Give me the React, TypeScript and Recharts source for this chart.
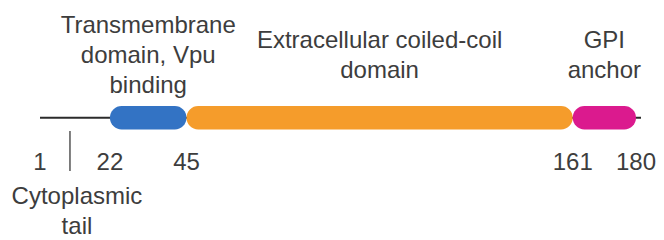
import { BarChart, Bar, XAxis, YAxis, LabelList } from 'recharts'

// BST-2 / tetherin domain map, residues 1-180
const domainNames = ['tm', 'cc', 'gpi']
const domainStarts = [22, 45, 161]
const domainEnds = [45, 161, 180]
const domainColors = ['#3373c4', '#f59c2b', '#db1a8e']
const domainLabels = [
  ['Transmembrane', 'domain, Vpu', 'binding'],
  ['Extracellular coiled-coil', 'domain'],
  ['GPI', 'anchor'],
]
const proteinStart = 1
const proteinEnd = 180
const tickValues = [1, 10, 22, 45, 161, 180]
const tailMarker = 10
const tailLabel = ['Cytoplasmic', 'tail']

const row: Record<string, string | number> = { name: 'protein', lead: domainStarts[0] }
domainNames.forEach((n, i) => {
  row[n] = domainEnds[i] - domainStarts[i]
})
const data = [row]

const FONT = '"Liberation Sans", Arial, Helvetica, sans-serif'
const TEXT = '#3d3d3d'

function domainLabel(lines: string[]) {
  return (props: any) => {
    const { x, y, width } = props
    const cx = Number(x) + Number(width) / 2
    const mid = Number(y) - 52
    const lh = 30
    const first = mid - ((lines.length - 1) * lh) / 2
    return (
      <text x={cx} textAnchor="middle" fill={TEXT} fontSize={24} fontFamily={FONT}>
        {lines.map((l, i) => (
          <tspan key={i} x={cx} y={first + i * lh} dominantBaseline="central">
            {l}
          </tspan>
        ))}
      </text>
    )
  }
}

// protein backbone, drawn as the row background so it sits behind the domains
function Backbone(props: any) {
  const { x, y, width, height } = props
  const cy = Number(y) + Number(height) / 2
  return <line x1={x} x2={Number(x) + Number(width) + 5} y1={cy} y2={cy} stroke="#2b2b2b" strokeWidth={2} />
}

function Tick(props: any) {
  const { x, y, payload } = props
  if (payload.value === tailMarker) {
    return (
      <g>
        <line x1={x} x2={x} y1={y} y2={y + 40} stroke="#555" strokeWidth={1.5} />
        <text x={x + 7} textAnchor="middle" fill={TEXT} fontSize={24} fontFamily={FONT}>
          <tspan x={x + 7} y={y + 73}>{tailLabel[0]}</tspan>
          <tspan x={x + 7} y={y + 103}>{tailLabel[1]}</tspan>
        </text>
      </g>
    )
  }
  return (
    <text x={x} y={y + 39} textAnchor="middle" fill={TEXT} fontSize={24} fontFamily={FONT}>
      {payload.value}
    </text>
  )
}

export default function App() {
  return (
    <div style={{ position: 'absolute', left: 0, top: 0, background: '#fff' }}>
      <BarChart
        width={664}
        height={240}
        data={data}
        layout="vertical"
        margin={{ top: 105, right: 28, bottom: 0, left: 40 }}
        barCategoryGap={0}
      >
        <XAxis
          type="number"
          domain={[proteinStart, proteinEnd]}
          allowDataOverflow
          ticks={tickValues}
          tick={<Tick />}
          axisLine={false}
          tickLine={false}
          tickSize={0}
          tickMargin={0}
          height={109}
          interval={0}
        />
        <YAxis type="category" dataKey="name" hide />
        <Bar
          dataKey="lead"
          stackId="p"
          fill="transparent"
          barSize={26}
          background={<Backbone />}
          isAnimationActive={false}
        />
        {domainNames.map((n, i) => (
          <Bar
            key={n}
            dataKey={n}
            stackId="p"
            fill={domainColors[i]}
            barSize={26}
            radius={12}
            isAnimationActive={false}
          >
            <LabelList dataKey={n} content={domainLabel(domainLabels[i])} />
          </Bar>
        ))}
      </BarChart>
    </div>
  )
}
